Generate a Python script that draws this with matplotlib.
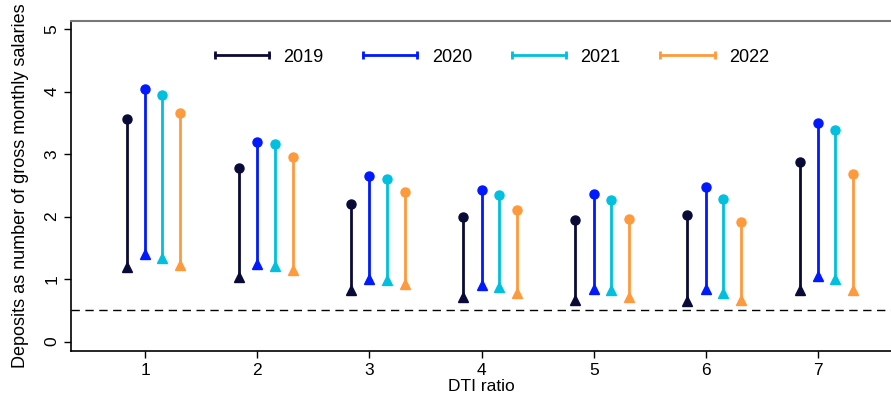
import matplotlib
matplotlib.use('Agg')
import matplotlib.pyplot as plt
from matplotlib.lines import Line2D
import numpy as np

plt.rcParams['font.family'] = ['Liberation Sans', 'DejaVu Sans']

# DTI ratio categories
dti = [1, 2, 3, 4, 5, 6, 7]
years = ['2019', '2020', '2021', '2022']
colors = ['#0a0a38', '#0019ff', '#00c0e0', '#ff9a3c']
offsets = [-0.165, 0.0, 0.155, 0.315]

# upper end (circle) and lower end (triangle) per year
top_2019 = [3.56, 2.77, 2.21, 2.00, 1.94, 2.02, 2.88]
top_2020 = [4.04, 3.19, 2.65, 2.43, 2.36, 2.47, 3.49]
top_2021 = [3.95, 3.16, 2.60, 2.35, 2.27, 2.28, 3.39]
top_2022 = [3.66, 2.96, 2.39, 2.10, 1.96, 1.92, 2.68]

low_2019 = [1.20, 1.03, 0.82, 0.71, 0.66, 0.65, 0.82]
low_2020 = [1.40, 1.24, 1.01, 0.90, 0.84, 0.84, 1.05]
low_2021 = [1.34, 1.21, 0.99, 0.87, 0.82, 0.78, 1.01]
low_2022 = [1.22, 1.14, 0.92, 0.78, 0.72, 0.66, 0.82]

tops = [top_2019, top_2020, top_2021, top_2022]
lows = [low_2019, low_2020, low_2021, low_2022]
threshold = 0.5

fig = plt.figure(figsize=(8.91, 3.96), dpi=100)
ax = fig.add_axes([0.0797, 0.1136, 0.9203, 0.8334])

x = np.array(dti, dtype=float)
for yr, c, off, hi, lo in zip(years, colors, offsets, tops, lows):
    xs = x + off
    ax.vlines(xs, lo, hi, color=c, lw=2, zorder=2)
    ax.plot(xs, hi, 'o', color=c, ms=6.5, zorder=3)
    ax.plot(xs, lo, '^', color=c, ms=7, zorder=3)

ax.axhline(threshold, color='black', lw=1, ls=(0, (6, 4)), zorder=1)

ax.set_xlim(0.34, 7.65)
ax.set_ylim(-0.15, 5.13)
ax.set_xticks(dti)
ax.set_yticks([0, 1, 2, 3, 4, 5])
ax.tick_params(axis='both', direction='out', length=5, width=1, labelsize=12.5, color='black')
for lab in ax.get_yticklabels():
    lab.set_rotation(90)
    lab.set_va('center')

ax.spines['right'].set_visible(False)
ax.spines['top'].set_color('#777777')
ax.spines['top'].set_linewidth(1.5)
ax.spines['left'].set_linewidth(1.2)
ax.spines['bottom'].set_linewidth(1.2)

ax.set_xlabel('DTI ratio', fontsize=12.5, labelpad=1)
ax.set_ylabel('Deposits as number of gross monthly salaries', fontsize=13, labelpad=11)

handles = [Line2D([], [], color=c, lw=2, marker='|', ms=6, mew=2) for c in colors]
ax.legend(handles, years, loc='upper center', bbox_to_anchor=(0.51, 0.965), ncol=4,
          frameon=False, fontsize=13, numpoints=2, handlelength=3.6,
          handletextpad=0.5, columnspacing=1.9)

fig.savefig('out.png', dpi=100)
